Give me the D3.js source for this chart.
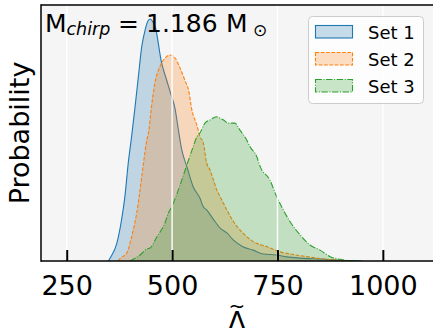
<!DOCTYPE html>
<html><head><meta charset="utf-8">
<script src="https://cdn.jsdelivr.net/npm/d3@7"></script>
<style>
body{margin:0;background:#fff;}
svg{display:block;font-family:"DejaVu Sans",sans-serif;}
</style>
</head><body>
<svg id="c" width="433" height="328"></svg>
<script>
// ---------------- data ----------------
const seriesNames = ["Set 1", "Set 2", "Set 3"];
const set1Lambda = [349, 353, 369, 380, 388, 396, 404, 412, 420, 428, 436, 442, 448, 454, 460, 475, 487, 499, 507, 515, 523, 535, 550, 566, 574, 582, 598, 614, 630, 645, 668, 692, 716, 748, 772, 804, 851, 900, 950];
const set1Prob   = [0, 0.012, 0.074, 0.169, 0.266, 0.405, 0.515, 0.635, 0.762, 0.886, 0.955, 0.99, 1.0, 0.99, 0.968, 0.82, 0.748, 0.679, 0.63, 0.541, 0.459, 0.39, 0.307, 0.26, 0.224, 0.211, 0.172, 0.136, 0.116, 0.087, 0.059, 0.045, 0.029, 0.025, 0.017, 0.012, 0.008, 0.003, 0];
const set2Lambda = [372, 377, 392, 404, 416, 424, 432, 440, 444, 452, 459, 471, 483, 495, 507, 519, 531, 539, 547, 559, 566, 574, 582, 590, 598, 606, 614, 630, 646, 669, 693, 725, 756, 780, 820, 851, 891, 930];
const set2Prob   = [0, 0.011, 0.032, 0.1, 0.197, 0.293, 0.403, 0.5, 0.53, 0.65, 0.734, 0.803, 0.838, 0.851, 0.839, 0.797, 0.744, 0.707, 0.624, 0.56, 0.514, 0.488, 0.405, 0.376, 0.335, 0.293, 0.266, 0.211, 0.162, 0.114, 0.08, 0.059, 0.038, 0.029, 0.018, 0.01, 0.004, 0];
const set3Lambda = [400, 424, 440, 448, 464, 479, 483, 491, 499, 519, 535, 550, 559, 566, 578, 590, 606, 614, 622, 633, 649, 661, 677, 685, 701, 709, 732, 748, 764, 780, 804, 827, 851, 875, 899, 922, 946];
const set3Prob   = [0, 0.025, 0.05, 0.054, 0.1, 0.142, 0.157, 0.197, 0.224, 0.314, 0.397, 0.472, 0.514, 0.529, 0.57, 0.583, 0.596, 0.59, 0.583, 0.57, 0.57, 0.541, 0.5, 0.472, 0.431, 0.39, 0.335, 0.266, 0.211, 0.162, 0.107, 0.066, 0.045, 0.018, 0.007, 0.001, 0];
const xTicks = [250, 500, 750, 1000];
const xLabel = "Λ";
const xLabelAccent = "~";
const yLabel = "Probability";
const chirpMass = "1.186";

// ---------------- styles ----------------
const colors = ["#1f77b4", "#ff7f0e", "#2ca02c"];
const dashes = [null, "3.7,1.6", "6.4,1.6,1,1.6"];

const svg = d3.select("#c");
const L = 41, R = 433, T = 5, B = 261;
const x = d3.scaleLinear().domain([189, 1119]).range([L, R]);
const y = d3.scaleLinear().domain([0, 1.058]).range([B, T]);

svg.append("rect").attr("x", L).attr("y", T).attr("width", R - L).attr("height", B - T).attr("fill", "#f5f5f5");

svg.append("clipPath").attr("id", "clip").append("rect")
  .attr("x", L).attr("y", T).attr("width", R - L).attr("height", B - T);

const sets = [
  {lam: set1Lambda, p: set1Prob},
  {lam: set2Lambda, p: set2Prob},
  {lam: set3Lambda, p: set3Prob}
];

const gPlot = svg.append("g").attr("clip-path", "url(#clip)");
const area = d3.area().x(d => x(d[0])).y0(y(0)).y1(d => y(d[1])).curve(d3.curveMonotoneX);
const line = d3.line().x(d => x(d[0])).y(d => y(d[1])).curve(d3.curveMonotoneX);

sets.forEach((s, i) => {
  const pts = s.lam.map((l, k) => [l, s.p[k]]);
  gPlot.append("path").attr("d", area(pts)).attr("fill", colors[i]).attr("fill-opacity", 0.25);
  gPlot.append("path").attr("d", line(pts)).attr("fill", "none").attr("stroke", colors[i])
    .attr("stroke-width", 1.1).attr("stroke-dasharray", dashes[i]);
});

// grid (on top)
gPlot.selectAll(".grid").data(xTicks).enter().append("line")
  .attr("x1", d => x(d)).attr("x2", d => x(d)).attr("y1", T).attr("y2", B)
  .attr("stroke", "#ffffff").attr("stroke-width", 1.4);

// x axis
const xAxis = d3.axisBottom(x).tickValues(xTicks).tickSize(-11).tickPadding(0).tickFormat(d3.format("d"));
const gx = svg.append("g").attr("transform", `translate(0,${B})`).call(xAxis);
gx.select(".domain").remove();
gx.selectAll(".tick line").attr("stroke", "#000").attr("stroke-width", 2);
gx.selectAll(".tick text").attr("font-size", 27).attr("font-family", "DejaVu Sans")
  .attr("fill", "#000").attr("dy", null).attr("y", 34);

// spines
svg.append("line").attr("x1", L).attr("x2", R + 2).attr("y1", B).attr("y2", B).attr("stroke", "#000").attr("stroke-width", 1.5);
svg.append("line").attr("x1", L).attr("x2", R + 2).attr("y1", T).attr("y2", T).attr("stroke", "#000").attr("stroke-width", 1.5);
svg.append("line").attr("x1", L).attr("x2", L).attr("y1", T - 0.75).attr("y2", B + 0.75).attr("stroke", "#000").attr("stroke-width", 1.5);

// axis labels
const xl = svg.append("text").attr("text-anchor", "middle");
xl.append("tspan").attr("x", (L + R) / 2).attr("y", 330.5).attr("font-size", 27).text(xLabel);
xl.append("tspan").attr("x", (L + R) / 2).attr("y", 313).attr("font-size", 20).text(xLabelAccent);
svg.append("text").attr("transform", `translate(28.5,${(T + B) / 2}) rotate(-90)`)
  .attr("text-anchor", "middle").attr("font-size", 27).text(yLabel);

// annotation
const ann = svg.append("text").attr("font-size", 25).attr("fill", "#000");
ann.append("tspan").attr("x", 45).attr("y", 32).text("M");
ann.append("tspan").attr("x", 66.5).attr("y", 35).attr("font-size", 17.5).attr("font-style", "italic").text("chirp");
ann.append("tspan").attr("x", 118).attr("y", 32).text("=");
ann.append("tspan").attr("x", 146).attr("y", 32).text(chirpMass);
ann.append("tspan").attr("x", 226).attr("y", 32).text("M");
ann.append("tspan").attr("x", 253).attr("y", 36).attr("font-size", 17).text("⊙");

// legend
const lg = svg.append("g");
lg.append("rect").attr("x", 308.5).attr("y", 16.5).attr("width", 115).attr("height", 87).attr("rx", 4)
  .attr("fill", "#fff").attr("fill-opacity", 0.8).attr("stroke", "#cccccc").attr("stroke-width", 1);
seriesNames.forEach((n, i) => {
  const yy = 25 + i * 27;
  lg.append("rect").attr("x", 315.5).attr("y", yy + 0.5).attr("width", 37).attr("height", 12.5)
    .attr("fill", colors[i]).attr("fill-opacity", 0.25).attr("stroke", colors[i]).attr("stroke-width", 1.1)
    .attr("stroke-dasharray", dashes[i]);
  lg.append("text").attr("x", 368).attr("y", yy + 13.5).attr("font-size", 18).text(n);
});
</script>
</body></html>
